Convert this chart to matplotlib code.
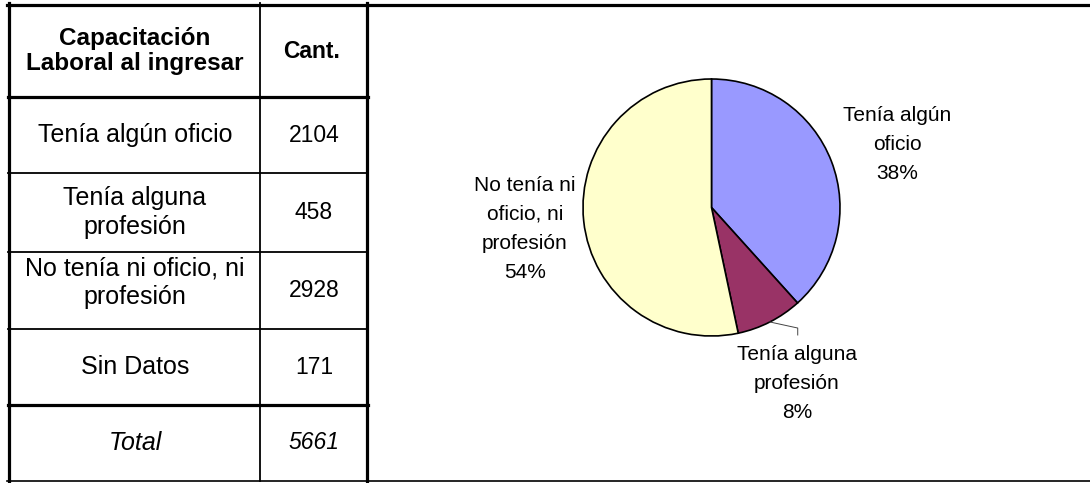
import numpy as np
import matplotlib
matplotlib.use("Agg")
import matplotlib.pyplot as plt

plt.rcParams['font.family'] = ['Liberation Sans', 'DejaVu Sans']

# datos de la tabla
header = ["Capacitación\nLaboral al ingresar", "Cant."]
categorias = ["Tenía algún oficio", "Tenía alguna\nprofesión",
              "No tenía ni oficio, ni\nprofesión", "Sin Datos"]
cantidades = [2104, 458, 2928, 171]
total_label = "Total"
total = 5661

# datos de la torta (sin "Sin Datos")
pie_labels = ["Tenía algún\noficio", "Tenía alguna\nprofesión", "No tenía ni\noficio, ni\nprofesión"]
pie_values = [2104, 458, 2928]
pie_pct = [38, 8, 54]
pie_colors = ["#9999FF", "#993366", "#FFFFCC"]

W, H = 1090, 483
fig = plt.figure(figsize=(W / 100, H / 100), dpi=100)
ax = fig.add_axes([0, 0, 1, 1])
ax.set_xlim(0, W)
ax.set_ylim(H, 0)
ax.axis('off')

# bordes
thick = 2.3
thin = 1.3
ax.plot([7, W], [4.5, 4.5], color='black', lw=thick)
ax.plot([7, W], [480.5, 480.5], color='black', lw=1.2)
ax.plot([8.5, 8.5], [3, 481], color='black', lw=thick)
ax.plot([366.5, 366.5], [3, 481], color='black', lw=thick)
ax.plot([260, 260], [3, 481], color='black', lw=thin)

row_lines = [97, 173, 252, 329, 405]
for i, y in enumerate(row_lines):
    if i in (0, 4):
        ax.plot([8, 368], [y, y], color='black', lw=thick)
    else:
        ax.plot([8, 366], [y, y], color='black', lw=thin)

c1, c2 = 135, 314
fs = 18
fs_num = 16.5
ax.text(c1, 51, header[0], ha='center', va='center', fontsize=17.5,
        fontweight='bold', linespacing=1.08)
ax.text(c2 - 2, 51, header[1], ha='center', va='center', fontsize=16.5,
        fontweight='bold')

bounds = row_lines + [480]
offs = [0, 0, -8, 0]
for i, (cat, val) in enumerate(zip(categorias, cantidades)):
    yc = (bounds[i] + bounds[i + 1]) / 2
    ax.text(c1, yc + offs[i], cat, ha='center', va='center', fontsize=fs, linespacing=1.22)
    ax.text(c2, yc, str(val), ha='center', va='center', fontsize=fs_num)
yc = (bounds[4] + bounds[5]) / 2
ax.text(c1, yc, total_label, ha='center', va='center', fontsize=fs, style='italic')
ax.text(c2, yc, str(total), ha='center', va='center', fontsize=fs_num, style='italic')

# torta
cx, cy, r = 711.5, 207.5, 128.5
pax = fig.add_axes([(cx - r) / W, 1 - (cy + r) / H, 2 * r / W, 2 * r / H])
wedges, _ = pax.pie(pie_values, colors=pie_colors, startangle=90, counterclock=False,
                    wedgeprops=dict(edgecolor='black', linewidth=1.2))
pax.set_xlim(-1, 1)
pax.set_ylim(-1, 1)
pax.set_aspect('equal')
for w in wedges:
    w.set_clip_on(False)

lab_pos = [(1.444, 0.487), (0.665, -1.37), (-1.451, -0.167)]
for lab, pct, (x, y) in zip(pie_labels, pie_pct, lab_pos):
    pax.text(x, y, f"{lab}\n{pct}%", ha='center', va='center', fontsize=15,
             linespacing=1.67, clip_on=False)

# línea guía de la porción chica
w = wedges[1]
ang = np.deg2rad((w.theta1 + w.theta2) / 2)
px, py = np.cos(ang), np.sin(ang)
pax.plot([px, 0.671, 0.671], [py, -0.938, -0.992], color='#444444', lw=0.7,
         clip_on=False)

fig.savefig("out.png", dpi=100)
